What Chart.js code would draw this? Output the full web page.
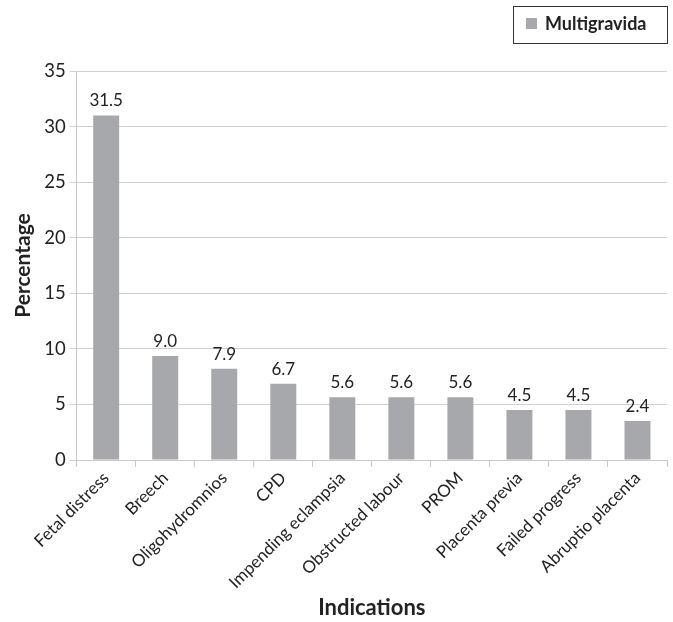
<!DOCTYPE html>
<html>
<head>
<meta charset="utf-8">
<script src="https://cdn.jsdelivr.net/npm/chart.js@4"></script>
<style>
  html, body { margin: 0; padding: 0; background: #fff; }
  #wrap { width: 673px; height: 622px; }
</style>
</head>
<body>
<div id="wrap"><canvas id="myChart" width="673" height="622"></canvas></div>
<script>
// categories on the x axis
var indications = ['Fetal distress', 'Breech', 'Oligohydromnios', 'CPD', 'Impending eclampsia',
  'Obstructed labour', 'PROM', 'Placenta previa', 'Failed progress', 'Abruptio placenta'];
// bar heights as drawn in the picture
var barHeights = [31.0, 9.35, 8.2, 6.85, 5.65, 5.65, 5.65, 4.5, 4.5, 3.5];
// printed labels above the bars
var barLabels = ['31.5', '9.0', '7.9', '6.7', '5.6', '5.6', '5.6', '4.5', '4.5', '2.4'];
var seriesName = 'Multigravida';

var FONT = 'Lato, "Open Sans", sans-serif';
var BAR = '#a7a8ab';

//数值标签
var valueLabels = {
  id: 'valueLabels',
  afterDatasetsDraw(chart) {
    let ctx = chart.ctx;
    let meta = chart.getDatasetMeta(0);
    ctx.save();
    ctx.font = '17px ' + FONT;
    ctx.fillStyle = '#222';
    ctx.textAlign = 'center';
    ctx.textBaseline = 'bottom';
    meta.data.forEach((bar, i) => {
      ctx.fillText(barLabels[i], bar.x, bar.y - 6);
    });
    ctx.restore();
  }
};

//图例框
var boxLegend = {
  id: 'boxLegend',
  afterDraw(chart) {
    let ctx = chart.ctx;
    ctx.save();
    ctx.strokeStyle = '#333';
    ctx.lineWidth = 1;
    ctx.strokeRect(513.5, 6.5, 154, 37);
    ctx.fillStyle = BAR;
    ctx.fillRect(526, 18, 11, 11);
    ctx.font = 'bold 18px ' + FONT;
    ctx.fillStyle = '#222';
    ctx.textBaseline = 'middle';
    ctx.fillText(seriesName, 545, 24);
    ctx.restore();
  }
};

var ctx = document.getElementById('myChart').getContext('2d');
var myChart = new Chart(ctx, {
  type: 'bar',
  data: {
    labels: indications,
    datasets: [{
      label: seriesName,
      data: barHeights,
      backgroundColor: BAR,
      borderWidth: 0,
      categoryPercentage: 0.88,
      barPercentage: 0.5
    }]
  },
  options: {
    responsive: false,
    animation: false,
    layout: { padding: { top: 71, right: 6, left: 7, bottom: 0 } },
    plugins: {
      legend: { display: false },
      tooltip: { enabled: false }
    },
    scales: {
      x: {
        // fix the axis box so the plot ends at the same place as the picture
        afterFit: (scale) => { scale.height = 162; },
        grid: { offset: true, drawOnChartArea: false, tickLength: 7, color: '#c8c8c8' },
        border: { color: '#c8c8c8' },
        ticks: {
          minRotation: 45, maxRotation: 45, autoSkip: false,
          font: { family: FONT, size: 17 }, color: '#222', padding: 1
        },
        title: {
          display: true, text: 'Indications',
          font: { family: FONT, size: 22, weight: 'bold' }, color: '#222',
          padding: { top: 12, bottom: 1 }
        }
      },
      y: {
        min: 0, max: 35,
        grid: { color: '#d0d0d0', tickLength: 7 },
        border: { color: '#c8c8c8' },
        ticks: {
          stepSize: 5,
          font: { family: FONT, size: 18.5 }, color: '#222', padding: 4
        },
        title: {
          display: true, text: 'Percentage',
          font: { family: FONT, size: 21, weight: 'bold' }, color: '#222',
          padding: { bottom: 4 }
        }
      }
    }
  },
  plugins: [valueLabels, boxLegend]
});
</script>
</body>
</html>
